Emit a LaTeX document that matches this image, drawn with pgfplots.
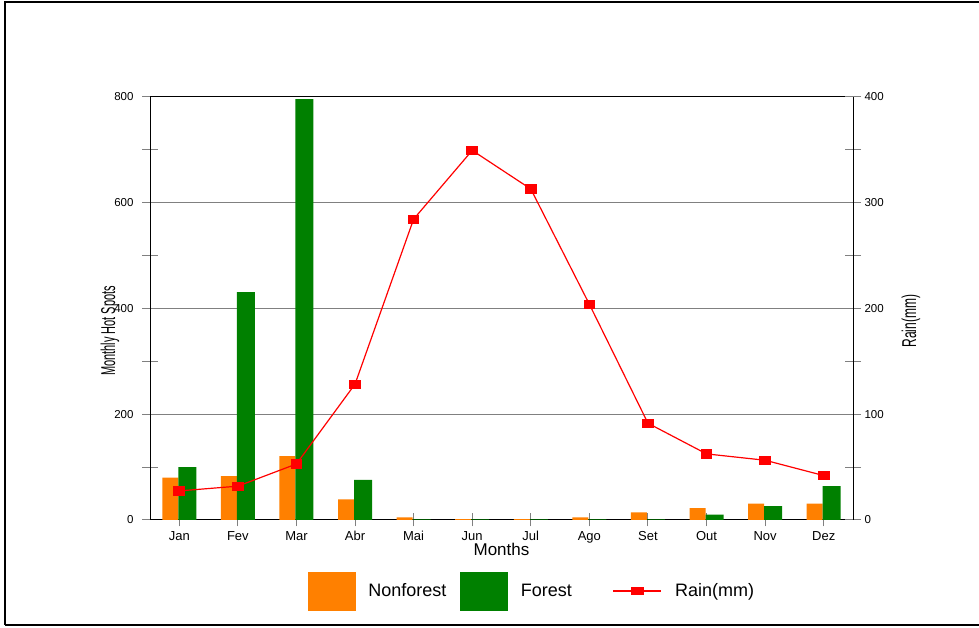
\documentclass[border=0pt]{standalone}
\usepackage{fontspec}
\setmainfont{Liberation Sans}
\usepackage{graphicx}
\usepackage{pgfplots}
\usepackage{pgfplotstable}
\pgfplotsset{compat=1.18}
\definecolor{myorange}{RGB}{255,128,0}
\definecolor{mygreen}{RGB}{0,128,0}
\definecolor{gridgray}{RGB}{128,128,128}

\pgfplotstableread{
x nonforest forest rain
0 80 100 27.5
1 83 431 32
2 121 796 53
3 39 76 128.5
4 5 1 284.5
5 1.5 1 349.5
6 1.5 1 313
7 5 1 204
8 14.5 1 91.5
9 22.5 10 62.5
10 31 26 56.5
11 31 64 42
}\data

\pgfplotsset{
  common/.style={
    at={(150pt,108pt)}, anchor=south west, scale only axis,
    width=703pt, height=423pt,
    xmin=-0.5, xmax=11.5,
    tick align=center,
    major tick length=16pt, minor tick length=16pt,
    every tick/.style={gridgray, line width=1pt},
    axis line style={black, line width=1pt},
    /pgf/number format/assume math mode=true,
    yticklabel style={font=\fontsize{11.5}{13}\selectfont},
    ylabel style={font=\fontsize{20}{22}\selectfont, anchor=center},
  }
}

\begin{document}
\begin{tikzpicture}[x=1pt,y=1pt]
\useasboundingbox (0,0) rectangle (979,628);
\draw[line width=2pt] (5,3) -- (5,626) -- (979,626);
\draw[line width=2pt] (5,3) -- (979,3);

\begin{axis}[common,
  ymin=0, ymax=800,
  ytick={0,200,400,600,800}, minor ytick={100,300,500,700},
  ytick pos=left, xtick pos=bottom,
  yticklabel style={xshift=-5pt},
  xtick={0,...,11},
  xticklabels={Jan,Fev,Mar,Abr,Mai,Jun,Jul,Ago,Set,Out,Nov,Dez},
  x tick label style={font=\fontsize{13}{15}\selectfont},
  x tick style={gridgray, line width=1pt},
  major x tick style={/pgfplots/major tick length=13pt},
  ymajorgrids, major grid style={gridgray, line width=1pt},
  xlabel={Months}, xlabel style={font=\fontsize{17}{19}\selectfont, yshift=7pt},
  ylabel={\scalebox{0.55}[1]{Monthly Hot Spots}},
  ylabel style={at={(axis description cs:-0.057,0.447)}},
]
\addplot[ybar, bar width=16pt, bar shift=-9pt, fill=myorange, draw=none] table[x=x,y=nonforest]{\data};
\addplot[ybar, bar width=18pt, bar shift=8pt, fill=mygreen, draw=none] table[x=x,y=forest]{\data};
\end{axis}

\begin{axis}[common,
  ymin=0, ymax=400,
  axis y line*=right, axis x line=none,
  ytick={0,100,200,300,400}, minor ytick={50,150,250,350},
  ylabel={\scalebox{0.6}[1]{Rain(mm)}},
  ylabel style={at={(axis description cs:1.0825,0.470)}, rotate=0},
  legend columns=3,
  legend cell align=left,
  legend style={at={(axis description cs:0.2248,-0.1678)}, anchor=west,
    draw=none, fill=none, inner sep=0pt, outer sep=0pt,
    font=\fontsize{18}{20}\selectfont,
    nodes={inner sep=0pt},
    /tikz/column sep=0pt,
    /tikz/every odd column/.append style={column sep=13pt}},
]
\addlegendimage{legend image code/.code={\fill[myorange] (0pt,-19pt) rectangle (47pt,19pt);}}
\addlegendentry{\makebox[92pt][l]{Nonforest}}
\addlegendimage{legend image code/.code={\fill[mygreen] (0pt,-19pt) rectangle (47pt,19pt);}}
\addlegendentry{\makebox[92pt][l]{Forest}}
\addplot[red, line width=1.2pt, mark=square*, mark size=4pt, mark options={xscale=1.3, solid},
  legend image code/.code={\draw[red,line width=1.2pt] (0pt,0pt) -- (48pt,0pt); \fill[red] (18.5pt,-3.5pt) rectangle (29.5pt,3.5pt);}]
  table[x=x,y=rain]{\data};
\addlegendentry{Rain(mm)}
\end{axis}
\end{tikzpicture}
\end{document}
